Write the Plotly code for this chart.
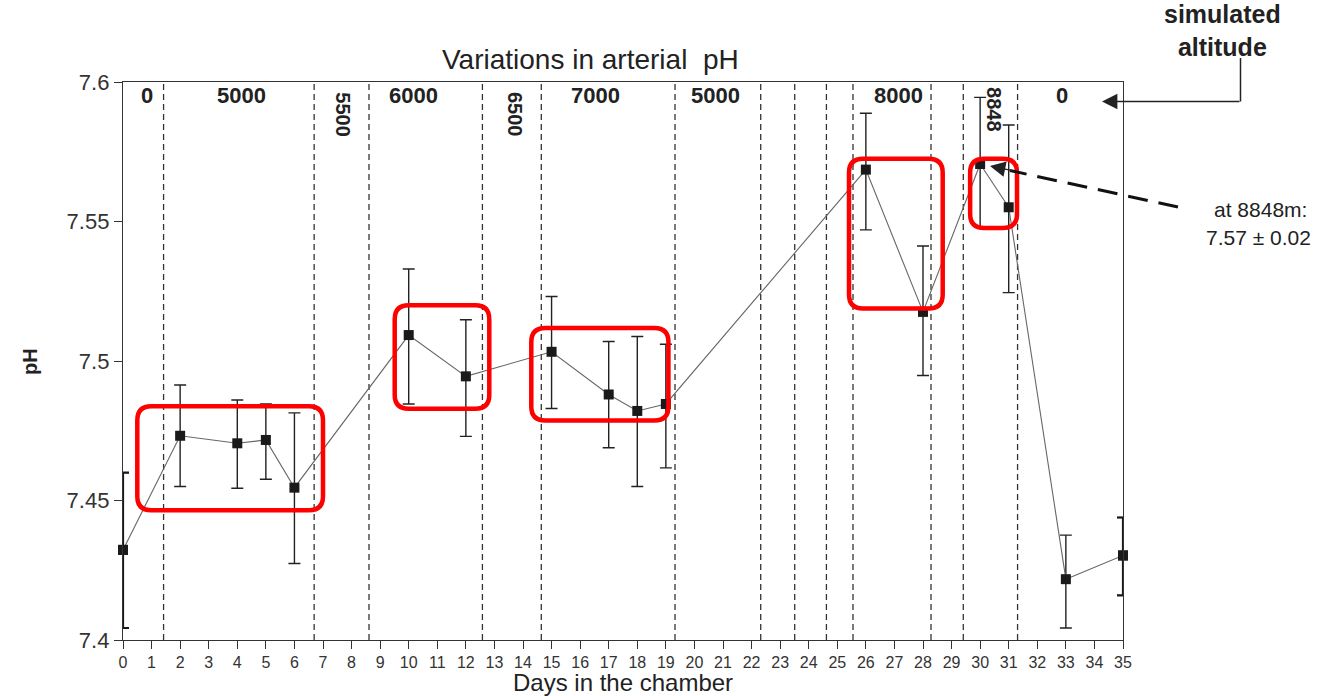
import plotly.graph_objects as go

# ---------------- data ----------------
days = [0, 2, 4, 5, 6, 10, 12, 15, 17, 18, 19, 26, 28, 30, 31, 33, 35]
ph = [7.4323, 7.4732, 7.4705, 7.4717, 7.4546, 7.5093, 7.4945, 7.5033, 7.4880,
      7.4821, 7.4846, 7.5686, 7.5176, 7.5706, 7.5551, 7.4218, 7.4303]
err_plus = [0.0277, 0.0182, 0.0155, 0.0129, 0.0268, 0.0237, 0.0203, 0.0198, 0.0190,
            0.0267, 0.0214, 0.0202, 0.0236, 0.0239, 0.0295, 0.0158, 0.0136]
err_minus = [0.0280, 0.0182, 0.0161, 0.0141, 0.0272, 0.0247, 0.0215, 0.0203, 0.0191,
             0.0271, 0.0229, 0.0216, 0.0228, 0.0227, 0.0306, 0.0175, 0.0143]

# altitude-change boundaries (days)
boundaries = [1.42, 6.69, 8.61, 12.58, 14.64, 19.32, 22.32, 23.51, 24.62, 25.55,
              28.28, 29.41, 31.31]

# altitude labels
alt_text = ["0", "5000", "5500", "6000", "6500", "7000", "5000", "8000", "8848", "0"]
alt_day = [0.83, 4.16, 7.70, 10.17, 13.70, 16.54, 20.74, 27.15, 30.48, 32.85]
alt_ph = [7.595, 7.595, 7.5884, 7.595, 7.5884, 7.595, 7.595, 7.595, 7.590, 7.595]
alt_angle = [0, 0, 90, 0, 90, 0, 0, 0, 90, 0]

# highlighted groups (day range, pH range)
box_x0 = [0.50, 9.51, 14.29, 25.41, 29.65]
box_x1 = [7.00, 12.82, 19.09, 28.69, 31.29]
box_y0 = [7.4465, 7.4829, 7.4787, 7.5188, 7.5477]
box_y1 = [7.4838, 7.5200, 7.5118, 7.5725, 7.5725]

y_ticks = [7.4, 7.45, 7.5, 7.55, 7.6]
y_tick_text = ["7.4", "7.45", "7.5", "7.55", "7.6"]
x_ticks = list(range(0, 36))

# ---------------- layout geometry ----------------
W, H = 1328, 696
ML, MR, MT, MB = 123, 205, 82, 56
PW, PH = W - ML - MR, H - MT - MB
FONT = "Arial, Liberation Sans, sans-serif"
INK = "#222222"


def px(xp):
    return (xp - ML) / PW


def py(yp):
    return (H - MB - yp) / PH


fig = go.Figure()

fig.add_trace(go.Scatter(
    x=days, y=ph, mode="lines+markers",
    line=dict(color="#666666", width=1.1),
    marker=dict(symbol="square", size=10, color="#1a1a1a"),
    error_y=dict(type="data", symmetric=False, array=err_plus, arrayminus=err_minus,
                 color="#222222", thickness=1.4, width=6),
    cliponaxis=False, showlegend=False,
))

# the two end points sit on the frame, their bars look heavier
ends = [0, len(days) - 1]
fig.add_trace(go.Scatter(
    x=[days[i] for i in ends], y=[ph[i] for i in ends], mode="markers",
    marker=dict(symbol="square", size=10, color="#1a1a1a"),
    error_y=dict(type="data", symmetric=False,
                 array=[err_plus[i] for i in ends], arrayminus=[err_minus[i] for i in ends],
                 color="#1a1a1a", thickness=2.2, width=6),
    cliponaxis=False, showlegend=False,
))

shapes = []
for b in boundaries:
    shapes.append(dict(type="line", xref="x", yref="y", x0=b, x1=b, y0=7.4, y1=7.6,
                       line=dict(color="#333333", width=1.3, dash="6px,4px"), layer="below"))

# rounded red rectangles
rx = 14 / (PW / 35)
ry = 14 / (PH / 0.2)
for x0, x1, y0, y1 in zip(box_x0, box_x1, box_y0, box_y1):
    path = (f"M {x0+rx},{y1} L {x1-rx},{y1} Q {x1},{y1} {x1},{y1-ry} "
            f"L {x1},{y0+ry} Q {x1},{y0} {x1-rx},{y0} "
            f"L {x0+rx},{y0} Q {x0},{y0} {x0},{y0+ry} "
            f"L {x0},{y1-ry} Q {x0},{y1} {x0+rx},{y1} Z")
    shapes.append(dict(type="path", xref="x", yref="y", path=path,
                       line=dict(color="#ff0000", width=4.5)))

# "simulated altitude" pointer (vertical segment)
shapes.append(dict(type="line", xref="paper", yref="paper",
                   x0=px(1240.5), x1=px(1240.5), y0=py(58), y1=py(101.5),
                   line=dict(color="#222222", width=1.5)))
# dashed pointer to 8848 m value
shapes.append(dict(type="line", xref="paper", yref="paper",
                   x0=px(1178), y0=py(207), x1=px(1010), y1=py(170.5),
                   line=dict(color="#111111", width=3, dash="20px,11px")))


def note(xp, yp, text, size, angle=0):
    return dict(x=px(xp), y=py(yp), xref="paper", yref="paper", text=text,
                showarrow=False, textangle=angle, xanchor="center", yanchor="middle",
                font=dict(family=FONT, size=size, color=INK))


annotations = []
for t, d, p, a in zip(alt_text, alt_day, alt_ph, alt_angle):
    annotations.append(dict(x=d, y=p, xref="x", yref="y", text=f"<b>{t}</b>",
                            showarrow=False, textangle=a, xanchor="center", yanchor="middle",
                            font=dict(family=FONT, size=20 if a else 22, color=INK)))

annotations += [
    note(590, 59, "Variations in arterial  pH", 28),
    note(623, 682, "Days in the chamber", 24),
    note(30, 362, "<b>pH</b>", 20, -90),
    note(1222, 30, "<b>simulated<br>altitude</b>", 25),
    note(1260, 209, "at 8848m:", 21),
    note(1258, 237, "7.57 ± 0.02", 21),
    # arrow heads
    dict(x=px(1102), y=py(101.5), xref="paper", yref="paper", text="",
         showarrow=True, ax=139, ay=0, arrowhead=2, arrowsize=2.2,
         arrowwidth=1.4, arrowcolor="#222222"),
    dict(x=px(990), y=py(166), xref="paper", yref="paper", text="",
         showarrow=True, ax=24, ay=5, arrowhead=2, arrowsize=2.2,
         arrowwidth=1.4, arrowcolor="#222222"),
]

fig.update_layout(
    width=W, height=H,
    margin=dict(l=ML, r=MR, t=MT, b=MB),
    paper_bgcolor="white", plot_bgcolor="white",
    font=dict(family=FONT, color=INK),
    shapes=shapes, annotations=annotations,
    xaxis=dict(range=[0, 35], tickmode="array", tickvals=x_ticks,
               ticks="outside", ticklen=8, tickcolor="#333333", tickwidth=1.3,
               showline=True, linecolor="#333333", linewidth=1.3, mirror=True,
               showgrid=False, zeroline=False,
               tickfont=dict(family=FONT, size=16, color="#333333")),
    yaxis=dict(range=[7.4, 7.6], tickmode="array", tickvals=y_ticks, ticktext=y_tick_text,
               ticks="outside", ticklen=8, tickcolor="#333333", tickwidth=1.3,
               showline=True, linecolor="#333333", linewidth=1.3, mirror=True,
               showgrid=False, zeroline=False,
               tickfont=dict(family=FONT, size=22, color="#333333")),
)

fig.write_html("out.html")
